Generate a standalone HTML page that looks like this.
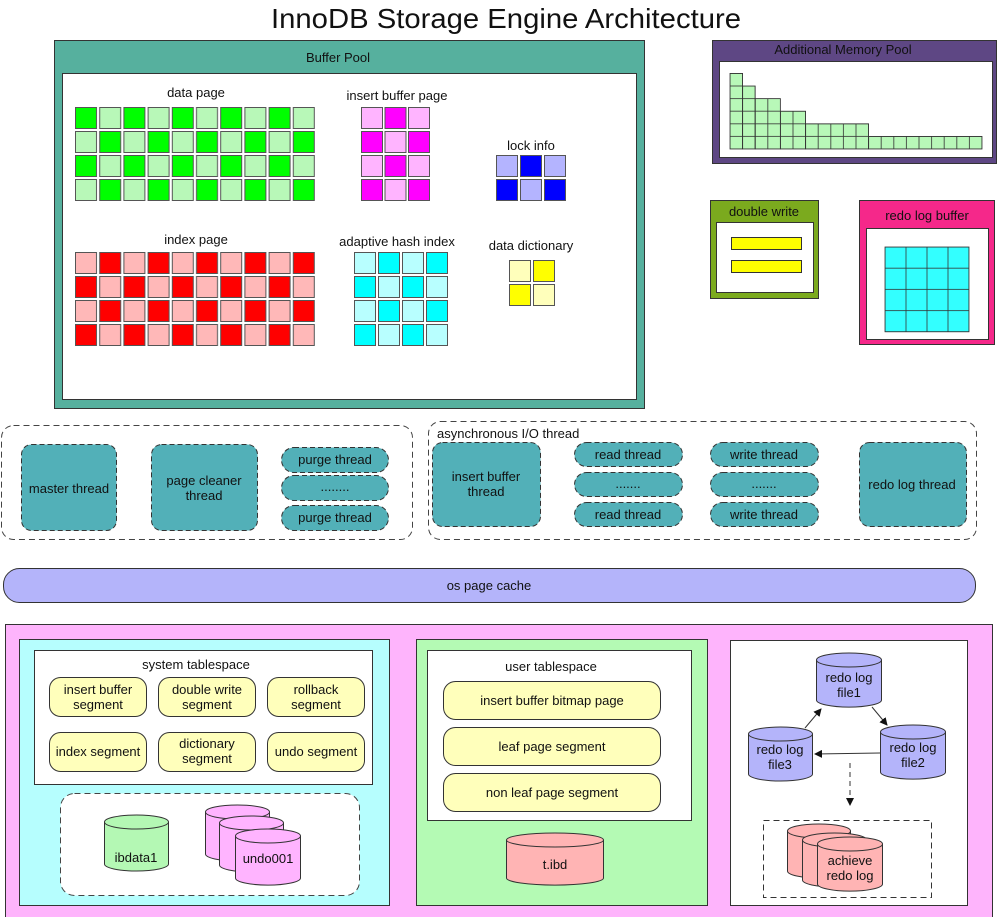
<!DOCTYPE html>
<html><head><meta charset="utf-8"><style>
html,body{margin:0;padding:0;background:#fff;}
svg{display:block;font-family:"Liberation Sans",Arial,sans-serif;}
text{fill:#111;}
</style></head><body>
<svg width="997" height="917" viewBox="0 0 997 917" xmlns="http://www.w3.org/2000/svg">
<defs>
<pattern id="pdata" patternUnits="userSpaceOnUse" x="75" y="107" width="48.4" height="48">
<rect x="0.5" y="0.5" width="21" height="21" fill="#00FF00" stroke="#555"/>
<rect x="24.7" y="0.5" width="21" height="21" fill="#B8F8B8" stroke="#555"/>
<rect x="0.5" y="24.5" width="21" height="21" fill="#B8F8B8" stroke="#555"/>
<rect x="24.7" y="24.5" width="21" height="21" fill="#00FF00" stroke="#555"/>
</pattern>
<pattern id="pidx" patternUnits="userSpaceOnUse" x="75" y="252" width="48.4" height="48">
<rect x="0.5" y="0.5" width="21" height="21" fill="#FFB8B8" stroke="#555"/>
<rect x="24.7" y="0.5" width="21" height="21" fill="#FF0000" stroke="#555"/>
<rect x="0.5" y="24.5" width="21" height="21" fill="#FF0000" stroke="#555"/>
<rect x="24.7" y="24.5" width="21" height="21" fill="#FFB8B8" stroke="#555"/>
</pattern>
<pattern id="pins" patternUnits="userSpaceOnUse" x="361" y="107" width="47" height="48">
<rect x="0.5" y="0.5" width="21" height="21" fill="#FFB4FF" stroke="#555"/>
<rect x="24" y="0.5" width="21" height="21" fill="#FF00FF" stroke="#555"/>
<rect x="0.5" y="24.5" width="21" height="21" fill="#FF00FF" stroke="#555"/>
<rect x="24" y="24.5" width="21" height="21" fill="#FFB4FF" stroke="#555"/>
</pattern>
<pattern id="plock" patternUnits="userSpaceOnUse" x="496" y="155" width="48" height="48">
<rect x="0.5" y="0.5" width="21" height="21" fill="#B4B4FF" stroke="#555"/>
<rect x="24.5" y="0.5" width="21" height="21" fill="#0000FF" stroke="#555"/>
<rect x="0.5" y="24.5" width="21" height="21" fill="#0000FF" stroke="#555"/>
<rect x="24.5" y="24.5" width="21" height="21" fill="#B4B4FF" stroke="#555"/>
</pattern>
<pattern id="phash" patternUnits="userSpaceOnUse" x="354" y="252" width="48" height="48">
<rect x="0.5" y="0.5" width="21" height="21" fill="#B8FFFF" stroke="#555"/>
<rect x="24.5" y="0.5" width="21" height="21" fill="#00FFFF" stroke="#555"/>
<rect x="0.5" y="24.5" width="21" height="21" fill="#00FFFF" stroke="#555"/>
<rect x="24.5" y="24.5" width="21" height="21" fill="#B8FFFF" stroke="#555"/>
</pattern>
<pattern id="pdict" patternUnits="userSpaceOnUse" x="509" y="260" width="48" height="48">
<rect x="0.5" y="0.5" width="21" height="21" fill="#FFFFBB" stroke="#555"/>
<rect x="24.5" y="0.5" width="21" height="21" fill="#FFFF00" stroke="#555"/>
<rect x="0.5" y="24.5" width="21" height="21" fill="#FFFF00" stroke="#555"/>
<rect x="24.5" y="24.5" width="21" height="21" fill="#FFFFBB" stroke="#555"/>
</pattern>
<pattern id="pmem" patternUnits="userSpaceOnUse" x="730" y="73.4" width="12.6" height="12.6">
<rect x="0" y="0" width="12.6" height="12.6" fill="#B8F8B8" stroke="#333" stroke-width="0.8"/>
</pattern>
<pattern id="predo" patternUnits="userSpaceOnUse" x="885" y="247" width="21" height="21.2">
<rect x="0" y="0" width="21" height="21.2" fill="#33FFFF" stroke="#333" stroke-width="0.8"/>
</pattern>
<marker id="ar" markerWidth="8" markerHeight="8" refX="7" refY="4" orient="auto" markerUnits="userSpaceOnUse">
<path d="M0,0 L8,4 L0,8 z" fill="#111"/>
</marker>
</defs>

<text x="506" y="28" font-size="28" text-anchor="middle" textLength="470" lengthAdjust="spacingAndGlyphs">InnoDB Storage Engine Architecture</text>

<rect x="54.5" y="40.5" width="590" height="368" fill="#56B09E" stroke="#333"/>
<rect x="62.5" y="73.5" width="574" height="326" fill="#fff" stroke="#333"/>
<text x="338" y="62" font-size="13" text-anchor="middle">Buffer Pool</text>
<text x="196" y="97" font-size="13" text-anchor="middle">data page</text>
<rect x="75" y="107" width="240" height="95" fill="url(#pdata)"/>
<text x="397" y="100" font-size="13" text-anchor="middle">insert buffer page</text>
<rect x="361" y="107" width="70.5" height="95" fill="url(#pins)"/>
<text x="531" y="150" font-size="13" text-anchor="middle">lock info</text>
<rect x="496" y="155" width="72" height="47" fill="url(#plock)"/>
<text x="196" y="244" font-size="13" text-anchor="middle">index page</text>
<rect x="75" y="252" width="240" height="95" fill="url(#pidx)"/>
<text x="397" y="246" font-size="13" text-anchor="middle">adaptive hash index</text>
<rect x="354" y="252" width="95" height="95" fill="url(#phash)"/>
<text x="531" y="250" font-size="13" text-anchor="middle">data dictionary</text>
<rect x="509" y="260" width="47" height="47" fill="url(#pdict)"/>

<rect x="712.5" y="40.5" width="284" height="123" fill="#5E4784" stroke="#333"/>
<rect x="719.5" y="61.5" width="273" height="96" fill="#fff" stroke="#333"/>
<text x="843" y="54" font-size="13" text-anchor="middle">Additional Memory Pool</text>
<g fill="url(#pmem)" stroke="#333" stroke-width="0.8">
<rect x="730" y="73.4" width="12.6" height="75.6"/>
<rect x="742.6" y="86" width="12.6" height="63"/>
<rect x="755.2" y="98.6" width="25.2" height="50.4"/>
<rect x="780.4" y="111.2" width="25.2" height="37.8"/>
<rect x="805.6" y="123.8" width="63" height="25.2"/>
<rect x="868.6" y="136.4" width="113.4" height="12.6"/>
</g>

<rect x="710.5" y="200.5" width="108" height="98" fill="#7BAA1E" stroke="#333"/>
<rect x="716.5" y="222.5" width="97" height="70" fill="#fff" stroke="#333"/>
<text x="764" y="216" font-size="13" text-anchor="middle">double write</text>
<rect x="731.5" y="237.5" width="70" height="12" fill="#FFFF00" stroke="#333"/>
<rect x="731.5" y="260.5" width="70" height="12" fill="#FFFF00" stroke="#333"/>

<rect x="859.5" y="200.5" width="135" height="144" fill="#F5288A" stroke="#333"/>
<rect x="866.5" y="228.5" width="122" height="111" fill="#fff" stroke="#333"/>
<text x="927" y="220" font-size="13" text-anchor="middle">redo log buffer</text>
<rect x="885" y="247" width="84" height="84.8" fill="url(#predo)" stroke="#333" stroke-width="0.8"/>

<rect x="1.5" y="425.5" width="411" height="114" rx="12" fill="#fff" stroke="#444" stroke-dasharray="6,4"/>
<g fill="#52B0B8" stroke="#333" stroke-dasharray="5,3">
<rect x="21.5" y="444.5" width="95" height="86" rx="10"/>
<rect x="151.5" y="444.5" width="106" height="86" rx="10"/>
<rect x="281.5" y="447.5" width="107" height="25" rx="12.5"/>
<rect x="281.5" y="475.5" width="107" height="25" rx="12.5"/>
<rect x="281.5" y="505.5" width="107" height="25" rx="12.5"/>
</g>
<g font-size="13" text-anchor="middle">
<text x="69" y="493">master thread</text>
<text x="204" y="485">page cleaner</text>
<text x="204" y="500">thread</text>
<text x="335" y="464">purge thread</text>
<text x="335" y="491">........</text>
<text x="335" y="522">purge thread</text>
</g>

<rect x="428.5" y="421.5" width="548" height="118" rx="12" fill="#fff" stroke="#444" stroke-dasharray="6,4"/>
<text x="437" y="438" font-size="13">asynchronous I/O thread</text>
<g fill="#52B0B8" stroke="#333" stroke-dasharray="5,3">
<rect x="432.5" y="442.5" width="108" height="84" rx="10"/>
<rect x="574.5" y="442.5" width="108" height="24" rx="12"/>
<rect x="574.5" y="472.5" width="108" height="24" rx="12"/>
<rect x="574.5" y="502.5" width="108" height="24" rx="12"/>
<rect x="710.5" y="442.5" width="108" height="24" rx="12"/>
<rect x="710.5" y="472.5" width="108" height="24" rx="12"/>
<rect x="710.5" y="502.5" width="108" height="24" rx="12"/>
<rect x="859.5" y="442.5" width="107" height="84" rx="10"/>
</g>
<g font-size="13" text-anchor="middle">
<text x="486" y="481">insert buffer</text>
<text x="486" y="496">thread</text>
<text x="628" y="459">read thread</text>
<text x="628" y="488">.......</text>
<text x="628" y="519">read thread</text>
<text x="764" y="459">write thread</text>
<text x="764" y="488">.......</text>
<text x="764" y="519">write thread</text>
<text x="912" y="489">redo log thread</text>
</g>

<rect x="3.5" y="568.5" width="972" height="34" rx="16" fill="#B4B4FA" stroke="#333"/>
<text x="489" y="590" font-size="13" text-anchor="middle">os page cache</text>

<rect x="5.5" y="624.5" width="987" height="300" fill="#FEB4FC" stroke="#333"/>

<rect x="19.5" y="639.5" width="370" height="266" fill="#B6FEFE" stroke="#333"/>
<rect x="34.5" y="650.5" width="338" height="134" fill="#fff" stroke="#333"/>
<text x="196" y="669" font-size="13" text-anchor="middle">system tablespace</text>
<g fill="#FFFFBB" stroke="#333">
<rect x="49.5" y="677.5" width="97" height="39" rx="11"/>
<rect x="158.5" y="677.5" width="97" height="39" rx="11"/>
<rect x="267.5" y="677.5" width="97" height="39" rx="11"/>
<rect x="49.5" y="732.5" width="97" height="39" rx="11"/>
<rect x="158.5" y="732.5" width="97" height="39" rx="11"/>
<rect x="267.5" y="732.5" width="97" height="39" rx="11"/>
</g>
<g font-size="13" text-anchor="middle">
<text x="98" y="694">insert buffer</text><text x="98" y="709">segment</text>
<text x="207" y="694">double write</text><text x="207" y="709">segment</text>
<text x="316" y="694">rollback</text><text x="316" y="709">segment</text>
<text x="98" y="756">index segment</text>
<text x="207" y="748">dictionary</text><text x="207" y="763">segment</text>
<text x="316" y="756">undo segment</text>
</g>
<rect x="60.5" y="793.5" width="299" height="102" rx="14" fill="#fff" stroke="#444" stroke-dasharray="6,4"/>
<path d="M104.5,822 v42 a32,7 0 0 0 64,0 v-42" fill="#B4F8B4" stroke="#333"/>
<ellipse cx="136.5" cy="822" rx="32" ry="7" fill="#B4F8B4" stroke="#333"/>
<text x="136" y="862" font-size="13" text-anchor="middle">ibdata1</text>
<g fill="#FFB4FF" stroke="#333">
<path d="M205.5,812 v42 a32,7 0 0 0 64,0 v-42"/><ellipse cx="237.5" cy="812" rx="32" ry="7"/>
<path d="M219.5,823 v42 a32,7 0 0 0 64,0 v-42"/><ellipse cx="251.5" cy="823" rx="32" ry="7"/>
<path d="M235.5,836 v42 a32,7 0 0 0 65,0 v-42"/><ellipse cx="268" cy="836" rx="32.5" ry="7"/>
</g>
<text x="268" y="863" font-size="13" text-anchor="middle">undo001</text>

<rect x="416.5" y="639.5" width="291" height="266" fill="#B4FAB4" stroke="#333"/>
<rect x="427.5" y="650.5" width="264" height="170" fill="#fff" stroke="#333"/>
<text x="551" y="671" font-size="13" text-anchor="middle">user tablespace</text>
<g fill="#FFFFBB" stroke="#333">
<rect x="443.5" y="681.5" width="217" height="38" rx="12"/>
<rect x="443.5" y="727.5" width="217" height="38" rx="12"/>
<rect x="443.5" y="773.5" width="217" height="38" rx="12"/>
</g>
<g font-size="13" text-anchor="middle">
<text x="552" y="705">insert buffer bitmap page</text>
<text x="552" y="751">leaf page segment</text>
<text x="552" y="797">non leaf page segment</text>
</g>
<path d="M506.5,840 v38 a48,7 0 0 0 97,0 v-38" fill="#FFB4B4" stroke="#333"/>
<ellipse cx="555" cy="840" rx="48.5" ry="7" fill="#FFB4B4" stroke="#333"/>
<text x="555" y="869" font-size="13" text-anchor="middle">t.ibd</text>

<rect x="730.5" y="640.5" width="237" height="265" fill="#fff" stroke="#333"/>
<g fill="#B4B4FA" stroke="#333">
<path d="M816.5,660 v40 a32,7 0 0 0 65,0 v-40"/><ellipse cx="849" cy="660" rx="32.5" ry="7"/>
<path d="M748.5,734 v40 a32,7 0 0 0 64,0 v-40"/><ellipse cx="780.5" cy="734" rx="32" ry="7"/>
<path d="M880.5,732 v40 a32,7 0 0 0 65,0 v-40"/><ellipse cx="913" cy="732" rx="32.5" ry="7"/>
</g>
<g font-size="13" text-anchor="middle">
<text x="849" y="682">redo log</text><text x="849" y="697">file1</text>
<text x="780" y="754">redo log</text><text x="780" y="769">file3</text>
<text x="913" y="752">redo log</text><text x="913" y="767">file2</text>
</g>
<g stroke="#333" stroke-width="1" fill="none">
<line x1="805" y1="728" x2="821" y2="709" marker-end="url(#ar)"/>
<line x1="872" y1="707" x2="887" y2="725" marker-end="url(#ar)"/>
<line x1="880" y1="753" x2="815" y2="754" marker-end="url(#ar)"/>
<line x1="850" y1="763" x2="850" y2="805" stroke-dasharray="5,4" marker-end="url(#ar)"/>
</g>
<rect x="763.5" y="820.5" width="168" height="77" fill="none" stroke="#333" stroke-dasharray="6,4"/>
<g fill="#FFB4B4" stroke="#333">
<path d="M787.5,831 v40 a31,7 0 0 0 63,0 v-40"/><ellipse cx="819" cy="831" rx="31.5" ry="7"/>
<path d="M802.5,840 v40 a32,7 0 0 0 64,0 v-40"/><ellipse cx="834.5" cy="840" rx="32" ry="7"/>
<path d="M817.5,844 v40 a32,7 0 0 0 65,0 v-40"/><ellipse cx="850" cy="844" rx="32.5" ry="7"/>
</g>
<g font-size="13" text-anchor="middle">
<text x="850" y="865">achieve</text><text x="850" y="880">redo log</text>
</g>
</svg>
</body></html>
